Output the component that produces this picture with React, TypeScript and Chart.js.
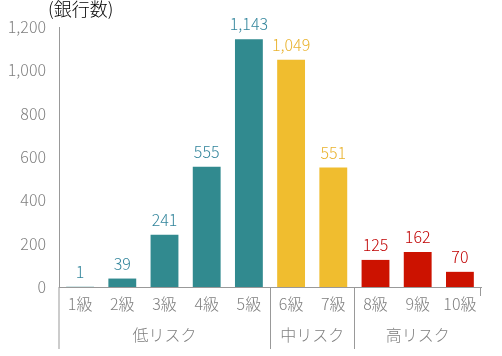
import React, { useEffect, useRef } from "react";
import { Chart, registerables } from "chart.js";

Chart.register(...registerables);

const categories = ["1級", "2級", "3級", "4級", "5級", "6級", "7級", "8級", "9級", "10級"];
const values = [1, 39, 241, 555, 1143, 1049, 551, 125, 162, 70];
const groups = [
  { label: "低リスク", from: 0, to: 4 },
  { label: "中リスク", from: 5, to: 6 },
  { label: "高リスク", from: 7, to: 9 },
];
const barColors = ["#318A8F", "#318A8F", "#318A8F", "#318A8F", "#318A8F", "#F0BD2F", "#F0BD2F", "#CC1200", "#CC1200", "#CC1200"];
const labelColors = ["#31849B", "#31849B", "#31849B", "#31849B", "#31849B", "#E9B22C", "#E9B22C", "#C00000", "#C00000", "#C00000"];
const yTicks = [0, 200, 400, 600, 800, 1000, 1200];
const unitLabel = "(銀行数)";

const FONT = "'Noto Sans CJK JP', 'Noto Sans', sans-serif";
const GRAY = "#7F7F7F";
const AXIS = "#999999";

const overlay = {
  id: "overlay",
  afterDraw(chart: any) {
    const ctx = chart.ctx;
    const x = chart.scales.x;
    const area = chart.chartArea;
    const meta = chart.getDatasetMeta(0);
    ctx.save();
    // data labels
    ctx.font = `300 16px ${FONT}`;
    ctx.textAlign = "center";
    ctx.textBaseline = "bottom";
    meta.data.forEach((bar: any, i: number) => {
      ctx.fillStyle = labelColors[i];
      ctx.fillText(values[i].toLocaleString("en-US"), bar.x, bar.y - 7);
    });
    // group separators
    const bottom = area.bottom + 62;
    ctx.strokeStyle = AXIS;
    ctx.lineWidth = 1;
    const boundary = (i: number) => (x.getPixelForValue(i) + x.getPixelForValue(i - 1)) / 2;
    const lines: number[] = [area.left];
    groups.forEach((g, gi) => {
      if (gi > 0) lines.push(Math.round(boundary(g.from)) + 0.5);
    });
    lines.forEach((lx) => {
      ctx.beginPath();
      ctx.moveTo(lx, area.bottom);
      ctx.lineTo(lx, bottom);
      ctx.stroke();
    });
    ctx.beginPath();
    ctx.moveTo(area.right - 0.5, area.bottom);
    ctx.lineTo(area.right - 0.5, area.bottom + 9);
    ctx.stroke();
    // group labels
    ctx.fillStyle = GRAY;
    ctx.font = `300 16px ${FONT}`;
    ctx.textBaseline = "middle";
    groups.forEach((g) => {
      const cx = (x.getPixelForValue(g.from) + x.getPixelForValue(g.to)) / 2;
      ctx.fillText(g.label, cx, area.bottom + 48);
    });
    // unit label
    ctx.fillStyle = "#000000";
    ctx.font = `300 18px ${FONT}`;
    ctx.textAlign = "left";
    ctx.textBaseline = "top";
    ctx.fillText(unitLabel, 48, 0);
    ctx.restore();
  },
};

export default function App() {
  const ref = useRef<HTMLCanvasElement>(null);
  useEffect(() => {
    if (!ref.current) return;
    const chart = new Chart(ref.current, {
      type: "bar",
      data: {
        labels: categories,
        datasets: [
          {
            data: values,
            backgroundColor: barColors,
            categoryPercentage: 1,
            barPercentage: 0.66,
          },
        ],
      },
      options: {
        animation: false,
        responsive: false,
        maintainAspectRatio: false,
        layout: { padding: { left: 0, right: 21, top: 27, bottom: 0 } },
        plugins: { legend: { display: false }, tooltip: { enabled: false }, title: { display: false } },
        scales: {
          x: {
            grid: { display: false, drawTicks: false },
            border: { display: true, color: AXIS },
            ticks: { color: GRAY, font: { family: FONT, size: 16, weight: "300" }, padding: 7, maxRotation: 0 },
            afterFit: (s: any) => {
              s.height = 69;
            },
          },
          y: {
            min: 0,
            max: 1200,
            grid: { display: false, drawTicks: false },
            border: { display: true, color: AXIS },
            afterBuildTicks: (s: any) => {
              s.ticks = yTicks.map((v) => ({ value: v }));
            },
            ticks: {
              color: GRAY,
              font: { family: FONT, size: 16, weight: "300" },
              padding: 13,
              callback: (v: any) => Number(v).toLocaleString("en-US"),
            },
            afterFit: (s: any) => {
              s.width = 59;
            },
          },
        },
      },
      plugins: [overlay],
    });
    return () => chart.destroy();
  }, []);
  return (
    <div style={{ position: "fixed", left: 0, top: 0, width: 502, height: 356, background: "#fff" }}>
      <canvas ref={ref} width={502} height={356} style={{ display: "block" }} />
    </div>
  );
}
